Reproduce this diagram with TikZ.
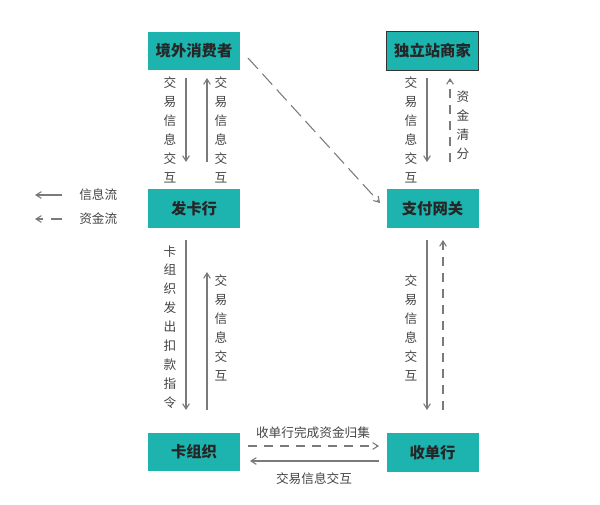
\documentclass[tikz,border=0pt]{standalone}
\usepackage{fontspec}
\setmainfont{Noto Sans CJK SC}
\usetikzlibrary{arrows.meta}
\definecolor{teal1}{HTML}{1DB3AE}
\definecolor{ln}{HTML}{7A7A7A}
\definecolor{tx}{HTML}{444444}
\tikzset{
 box/.style={fill=teal1,minimum width=69pt,minimum height=29pt,inner sep=0pt,font=\fontsize{11.5}{13}\selectfont\bfseries,text=black!85},
 ar/.style={draw=ln,line width=0.8pt,-{Straight Barb[length=4pt,width=5pt]}},
 da/.style={ar,dash pattern=on 7pt off 5pt},
 lb/.style={font=\fontsize{9.5}{14.2}\selectfont,text=tx,align=center,inner sep=0pt},
}
\begin{document}
\begin{tikzpicture}[x=0.75pt,y=-0.75pt]
\useasboundingbox (0,0) rectangle (600,504);
\node[box] (a) at (194,51) {境外消费者};
\node[box,draw=black!80,line width=0.8pt] (b) at (432.5,51) {独立站商家};
\node[box] (c) at (194,208.5) {发卡行};
\node[box] (d) at (432.5,208.5) {支付网关};
\node[box] (e) at (194,452) {卡组织};
\node[box] (f) at (432.5,452.5) {收单行};
% top left
\coordinate (a1) at (186,78); \coordinate (c1) at (186,162);
\coordinate (a2) at (207,78); \coordinate (c2) at (207,162);
\draw[ar] (a1) -- (c1);
\draw[ar] (c2) -- (a2);
\node[lb] (t1) at (170,130) {交\\易\\信\\息\\交\\互};
\node[lb] (t2) at (221,130) {交\\易\\信\\息\\交\\互};
% top right
\coordinate (b1) at (427,78); \coordinate (d1) at (427,162);
\coordinate (b2) at (450,78); \coordinate (d2) at (450,162);
\draw[ar] (b1) -- (d1);
\draw[da] (d2) -- (b2);
\node[lb] (t3) at (411,130) {交\\易\\信\\息\\交\\互};
\node[lb] (t4) at (463,125) {资\\金\\清\\分};
% diagonal
\coordinate (g1) at (248,58); \coordinate (g2) at (380,203);
\draw[da,dash pattern=on 11pt off 5pt] (g1) -- (g2);
% middle left
\coordinate (c3) at (186,240); \coordinate (e3) at (186,410);
\coordinate (c4) at (207,272); \coordinate (e4) at (207,410);
\draw[ar] (c3) -- (e3);
\draw[ar] (e4) -- (c4);
\node[lb] (t5) at (170,327) {卡\\组\\织\\发\\出\\扣\\款\\指\\令};
\node[lb] (t6) at (221,328) {交\\易\\信\\息\\交\\互};
% middle right
\coordinate (d3) at (427,240); \coordinate (f3) at (427,410);
\coordinate (d4) at (443,240); \coordinate (f4) at (443,410);
\draw[ar] (d3) -- (f3);
\draw[da] (f4) -- (d4);
\node[lb] (t7) at (411,328) {交\\易\\信\\息\\交\\互};
% bottom
\coordinate (e5) at (248,446); \coordinate (f5) at (379,446);
\coordinate (e6) at (250,461); \coordinate (f6) at (379,461);
\draw[da] (e5) -- (f5);
\draw[ar] (f6) -- (e6);
\node[lb] (t8) at (313,433) {收单行完成资金归集};
\node[lb] (t9) at (314,479) {交易信息交互};
% legend
\coordinate (l1) at (62,195); \coordinate (l2) at (35,195);
\coordinate (l3) at (62,219); \coordinate (l4) at (35,219);
\draw[ar] (l1) -- (l2);
\draw[da,dash pattern=on 8pt off 6pt] (l3) -- (l4);
\node[lb,anchor=west] (t10) at (79,195) {信息流};
\node[lb,anchor=west] (t11) at (79,219) {资金流};
\end{tikzpicture}
\end{document}
